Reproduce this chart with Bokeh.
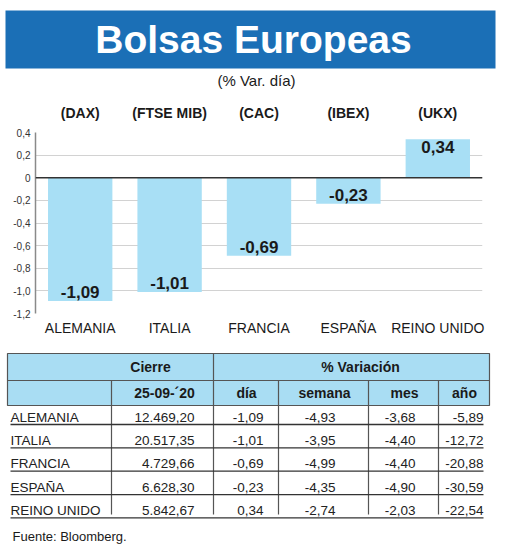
import numpy as np
from bokeh.plotting import figure
from bokeh.layouts import column
from bokeh.models import (ColumnDataSource, FactorRange, Range1d, CategoricalAxis,
                          FixedTicker, CustomJSTickFormatter, Span)
from bokeh.core.properties import value
from bokeh.embed import file_html
from bokeh.resources import INLINE

# ---------------- data ----------------
countries = ["ALEMANIA", "ITALIA", "FRANCIA", "ESPAÑA", "REINO UNIDO"]
tickers = ["(DAX)", "(FTSE MIB)", "(CAC)", "(IBEX)", "(UKX)"]
var_dia = [-1.09, -1.01, -0.69, -0.23, 0.34]
cierre = [12469.20, 20517.35, 4729.66, 6628.30, 5842.67]
var_semana = [-4.93, -3.95, -4.99, -4.35, -2.74]
var_mes = [-3.68, -4.40, -4.40, -4.90, -2.03]
var_anio = [-5.89, -12.72, -20.88, -30.59, -22.54]
y_ticks = [0.4, 0.2, 0, -0.2, -0.4, -0.6, -0.8, -1.0, -1.2]
title = "Bolsas Europeas"
subtitle = "(% Var. día)"
hdr_cierre = "Cierre"
hdr_var = "% Variación"
fecha = "25-09-´20"
col_headers = ["día", "semana", "mes", "año"]
source_text = "Fuente: Bloomberg."

# ---------------- style ----------------
BLUE = "#1b6fb6"
BAR = "#a8dff5"
HEAD_FILL = "#a9ddf3"
SANS = "Liberation Sans"
INK = "#1a1a1a"
W = 520


def es(v, dec=2):
    s = f"{v:,.{dec}f}"
    return s.replace(",", "X").replace(".", ",").replace("X", ".")


def canvas(y0, y1):
    f = figure(width=W, height=y1 - y0, x_range=Range1d(0, W), y_range=Range1d(y1, y0),
               min_border=0, toolbar_location=None, output_backend="svg",
               x_axis_type=None, y_axis_type=None, outline_line_color=None, title=None,
               frame_align=False)
    f.grid.visible = False
    return f

# ---------------- header ----------------
header = canvas(0, 100)
header.quad(left=[5], right=[495], top=[10], bottom=[68], fill_color=BLUE, line_color=None)
header.text(x=[253], y=[39], text=[title], text_font=value(SANS), text_font_style="bold",
            text_font_size="39px", text_color="white", text_align="center",
            text_baseline="middle")
header.text(x=[256], y=[80], text=[subtitle], text_font=value(SANS), text_font_size="15px",
            text_color=INK, text_align="center", text_baseline="middle")

# ---------------- bar chart ----------------
p = figure(width=W, height=240, x_range=FactorRange(*countries), y_range=Range1d(-1.2, 0.4),
           min_border_left=35, min_border_right=38, min_border_top=32, min_border_bottom=27,
           toolbar_location=None, output_backend="svg", outline_line_color=None, title=None,
           frame_align=False)

src = ColumnDataSource(dict(
    country=countries,
    dia=var_dia,
    label=[es(v) for v in var_dia],
    off=[-9 if v < 0 else 8 for v in var_dia],
))
p.vbar(x="country", top="dia", bottom=0, width=0.72, source=src,
       fill_color=BAR, line_color=None)
p.text(x="country", y="dia", text="label", y_offset="off", source=src,
       text_font=value(SANS), text_font_style="bold", text_font_size="17px",
       text_color=INK, text_align="center", text_baseline="middle")

p.add_layout(Span(location=0, dimension="width", line_color="#333333", line_width=1.5))

p.xgrid.visible = False
p.ygrid.ticker = FixedTicker(ticks=y_ticks)
p.ygrid.grid_line_color = "#d2d2d2"
p.ygrid.grid_line_width = 1

p.yaxis.ticker = FixedTicker(ticks=y_ticks)
p.yaxis.formatter = CustomJSTickFormatter(
    code="return Math.abs(tick) < 1e-9 ? '0' : tick.toFixed(1).replace('.', ',');")
p.yaxis.axis_line_color = "#8a8a8a"
p.yaxis.axis_line_width = 1.5
p.yaxis.major_tick_line_color = None
p.yaxis.minor_tick_line_color = None
p.yaxis.major_tick_out = 0
p.yaxis.major_tick_in = 0
p.yaxis.major_label_standoff = 5
p.yaxis.major_label_text_font = SANS
p.yaxis.major_label_text_font_size = "10px"
p.yaxis.major_label_text_color = "#333333"

p.xaxis.axis_line_color = None
p.xaxis.major_tick_line_color = None
p.xaxis.major_tick_out = 0
p.xaxis.major_tick_in = 0
p.xaxis.major_label_standoff = 6
p.xaxis.major_label_text_font = SANS
p.xaxis.major_label_text_font_size = "14px"
p.xaxis.major_label_text_color = INK

top_axis = CategoricalAxis(axis_line_color=None, major_tick_line_color=None,
                           major_tick_out=0, major_tick_in=0,
                           major_label_standoff=12, major_label_text_font=SANS,
                           major_label_text_font_style="bold",
                           major_label_text_font_size="14px",
                           major_label_text_color=INK)
top_axis.formatter = CustomJSTickFormatter(args=dict(m=dict(zip(countries, tickers))),
                                           code="return m[tick] || tick;")
p.add_layout(top_axis, "above")

# ---------------- table ----------------
t = canvas(340, 547)
LINE = "#555555"
t.quad(left=[7], right=[489], top=[353], bottom=[405], fill_color=HEAD_FILL,
       line_color=LINE, line_width=1.2)
t.segment(x0=[7], y0=[380], x1=[489], y1=[380], line_color=LINE, line_width=1.2)
t.segment(x0=[213], y0=[353], x1=[213], y1=[405], line_color=LINE, line_width=1.2)
hv = [111, 278, 368, 438]
t.segment(x0=hv, y0=[380] * 4, x1=hv, y1=[405] * 4, line_color=LINE, line_width=1.2)
dv = [111, 213, 278, 368, 438]
t.segment(x0=dv, y0=[405] * 5, x1=dv, y1=[514] * 5, line_color=LINE, line_width=1.2)

row_y = 416.5 + 23.35 * np.arange(len(countries))
t.segment(x0=[10] * len(countries), y0=row_y + 7.5, x1=[483] * len(countries),
          y1=row_y + 7.5, line_color="#333333", line_width=1.3)

hdr_kw = dict(text_font=value(SANS), text_font_style="bold", text_font_size="14px",
              text_color=INK, text_align="center", text_baseline="middle")
t.text(x=[150], y=[366.5], text=[hdr_cierre], **hdr_kw)
t.text(x=[360], y=[366.5], text=[hdr_var], **hdr_kw)
t.text(x=[164, 246, 324, 404, 464], y=[392.5] * 5, text=[fecha] + col_headers, **hdr_kw)

cell_kw = dict(text_font=value(SANS), text_font_size="13.5px", text_color="#222222",
               text_baseline="middle")
t.text(x=[10] * len(countries), y=row_y, text=countries, text_align="left", **cell_kw)
cols = [
    (194, [es(v) for v in cierre]),
    (263, [es(v) for v in var_dia]),
    (335, [es(v) for v in var_semana]),
    (415, [es(v) for v in var_mes]),
    (483, [es(v) for v in var_anio]),
]
for xr, vals in cols:
    t.text(x=[xr] * len(vals), y=row_y, text=vals, text_align="right", **cell_kw)

t.text(x=[12], y=[536], text=[source_text], text_font=value(SANS), text_font_size="13px",
       text_color=INK, text_align="left", text_baseline="middle")

layout = column(header, p, t, spacing=0)
open("out.html", "w").write(file_html(layout, INLINE))
